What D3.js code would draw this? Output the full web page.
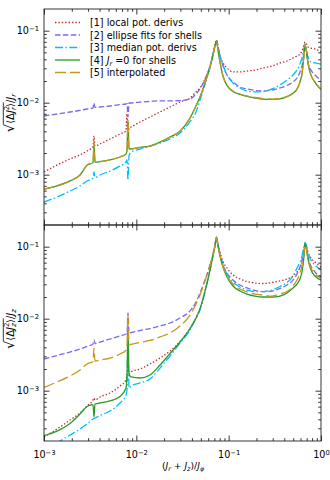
<!DOCTYPE html>
<html>
<head>
<meta charset="utf-8">
<script src="https://cdn.jsdelivr.net/npm/d3@7"></script>
<style>
body { margin: 0; background: #fff; }
text { font-family: "DejaVu Sans", sans-serif; }
</style>
</head>
<body>
<div id="chart"></div>
<script>
// x = (J_r + J_z)/J_phi, shared by every curve
var xVals = [0.001, 0.001384, 0.001914, 0.002455, 0.002923, 0.003396, 0.003478, 0.003567, 0.004042, 0.005186,
  0.006652, 0.007727, 0.007922, 0.008122, 0.008327, 0.008755, 0.01096, 0.01406, 0.01804, 0.02315,
  0.02972, 0.03813, 0.04428, 0.04893, 0.05542, 0.0628, 0.06767, 0.07112, 0.07382, 0.07662,
  0.08054, 0.08684, 0.09594, 0.1114, 0.1327, 0.158, 0.1929, 0.2354, 0.2946, 0.3597,
  0.4282, 0.4974, 0.5496, 0.5924, 0.6225, 0.6546, 0.6711, 0.6966, 0.7231, 0.7791, 0.861, 1.0];

// top panel: sqrt(<dJr^2>)/Jr
var jrLocal = [0.00109, 0.00136, 0.00165, 0.00188, 0.00213, 0.00246, 0.00344, 0.0025, 0.00267, 0.00313,
  0.00367, 0.00404, 0.00696, 0.00323, 0.00445, 0.00459, 0.00539, 0.00632, 0.00742, 0.00871,
  0.0102, 0.0116, 0.0141, 0.016, 0.0213, 0.0313, 0.0459, 0.0632, 0.0742, 0.0612,
  0.0445, 0.0356, 0.0303, 0.0267, 0.0267, 0.0275, 0.0284, 0.0303, 0.0323, 0.0356,
  0.0379, 0.0417, 0.0445, 0.0474, 0.0522, 0.0632, 0.0696, 0.0653, 0.0593, 0.0574, 0.0556, 0.0506];
var jrEllipse = [0.00653, 0.00696, 0.00742, 0.00779, 0.00817, 0.00843, 0.0099, 0.00857, 0.00871, 0.00899,
  0.00943, 0.00958, 0.00974, 0.00632, 0.0099, 0.0099, 0.0102, 0.0104, 0.0106, 0.0106,
  0.0107, 0.0112, 0.0132, 0.0155, 0.0213, 0.0323, 0.0474, 0.0632, 0.0719, 0.0613,
  0.0445, 0.0323, 0.0242, 0.0194, 0.0165, 0.0155, 0.0148, 0.0145, 0.015, 0.016,
  0.0173, 0.0194, 0.022, 0.0267, 0.0323, 0.0506, 0.0632, 0.0506, 0.0367, 0.0284, 0.0242, 0.0206];
var jrMedian = [0.000417, 0.00049, 0.000593, 0.000696, 0.000817, 0.000899, 0.00109, 0.000914, 0.00099, 0.00112,
  0.00132, 0.0015, 0.0016, 0.000843, 0.00182, 0.00206, 0.00227, 0.0025, 0.00275, 0.00313,
  0.00379, 0.00545, 0.00742, 0.0109, 0.0182, 0.0323, 0.0474, 0.0613, 0.0696, 0.0575,
  0.0445, 0.0334, 0.0242, 0.0188, 0.016, 0.0145, 0.0141, 0.0143, 0.0155, 0.0176,
  0.0206, 0.0242, 0.0284, 0.0344, 0.0417, 0.0575, 0.0653, 0.0539, 0.0431, 0.0367, 0.0356, 0.0344];
var jrShells = [0.00063, 0.0007, 0.00082, 0.00099, 0.00135, 0.00147, 0.0026, 0.00149, 0.00152, 0.0016,
  0.00176, 0.00193, 0.0022, 0.0058, 0.00226, 0.00228, 0.0024, 0.0025, 0.00283, 0.00333,
  0.00402, 0.0061, 0.009, 0.012, 0.0188, 0.0313, 0.0459, 0.0613, 0.0722, 0.054,
  0.0365, 0.0233, 0.0174, 0.0143, 0.013, 0.0122, 0.0116, 0.0112, 0.0111, 0.0113,
  0.0121, 0.0135, 0.0154, 0.0193, 0.0252, 0.046, 0.0625, 0.0505, 0.0354, 0.024, 0.0192, 0.0152];
var jrInterp = [0.000632, 0.000696, 0.000817, 0.00099, 0.00136, 0.00148, 0.00294, 0.0015, 0.00152, 0.0016,
  0.00176, 0.00194, 0.0022, 0.00539, 0.00227, 0.00227, 0.00238, 0.0025, 0.00284, 0.00334,
  0.00404, 0.00613, 0.00899, 0.012, 0.0188, 0.0313, 0.0459, 0.0613, 0.0719, 0.0539,
  0.0367, 0.0235, 0.0176, 0.0145, 0.0132, 0.0124, 0.0118, 0.0114, 0.0112, 0.0114,
  0.0122, 0.0136, 0.0155, 0.0194, 0.025, 0.0459, 0.0632, 0.0506, 0.0356, 0.0242, 0.0194, 0.0155];

// bottom panel: sqrt(<dJz^2>)/Jz
var jzLocal = [0.000227, 0.000294, 0.000391, 0.00049, 0.000613, 0.000742, 0.000791, 0.000742, 0.000817, 0.000928,
  0.00116, 0.00141, 0.00165, 0.0022, 0.0017, 0.00182, 0.002, 0.00235, 0.00284, 0.00356,
  0.00482, 0.0073, 0.0102, 0.0138, 0.0242, 0.0474, 0.0742, 0.102, 0.132, 0.109,
  0.0843, 0.0622, 0.0506, 0.0404, 0.0356, 0.0328, 0.0313, 0.0308, 0.0318, 0.0334,
  0.0356, 0.0391, 0.0445, 0.0506, 0.0593, 0.0843, 0.109, 0.102, 0.0843, 0.0696, 0.0613, 0.0522];
var jzEllipse = [0.00275, 0.00308, 0.00344, 0.00379, 0.00411, 0.00445, 0.00506, 0.00452, 0.00474, 0.00522,
  0.00575, 0.00613, 0.00622, 0.012, 0.00632, 0.00642, 0.00685, 0.0073, 0.00791, 0.00871,
  0.0102, 0.0128, 0.017, 0.0227, 0.0344, 0.0557, 0.0766, 0.102, 0.136, 0.1055,
  0.0766, 0.0557, 0.0431, 0.0344, 0.0294, 0.0267, 0.0246, 0.0238, 0.0242, 0.0263,
  0.0294, 0.0344, 0.0417, 0.0522, 0.0653, 0.0928, 0.1107, 0.0958, 0.0719, 0.0539, 0.0445, 0.0379];
var jzMedian = [0.000141, 0.000188, 0.000242, 0.000294, 0.000344, 0.000404, 0.000411, 0.000417, 0.000452, 0.000522,
  0.000674, 0.000871, 0.00102, 0.00696, 0.00109, 0.00116, 0.00128, 0.00145, 0.00206, 0.00303,
  0.00459, 0.00696, 0.0102, 0.0132, 0.0235, 0.049, 0.0766, 0.1055, 0.136, 0.1055,
  0.0791, 0.0557, 0.0417, 0.0323, 0.0275, 0.025, 0.0238, 0.0238, 0.025, 0.028,
  0.0318, 0.0391, 0.0506, 0.0613, 0.0742, 0.102, 0.116, 0.102, 0.0817, 0.0653, 0.0557, 0.0474];
var jzShells = [0.000238, 0.000275, 0.00035, 0.000474, 0.000603, 0.000642, 0.000431, 0.000653, 0.000674, 0.000719,
  0.00083, 0.00109, 0.00165, 0.00696, 0.0017, 0.00155, 0.0015, 0.00165, 0.00227, 0.00328,
  0.00474, 0.0073, 0.0102, 0.0138, 0.0242, 0.0474, 0.0766, 0.102, 0.132, 0.102,
  0.0742, 0.0522, 0.0379, 0.0284, 0.0242, 0.022, 0.0206, 0.02, 0.02, 0.0206,
  0.0227, 0.0267, 0.0303, 0.0356, 0.0445, 0.0742, 0.109, 0.0928, 0.0674, 0.0474, 0.0391, 0.0344];
var jzInterp = [0.00111, 0.00132, 0.0016, 0.00194, 0.00235, 0.00254, 0.00391, 0.00258, 0.00267, 0.00284,
  0.00323, 0.00367, 0.00431, 0.0112, 0.00431, 0.00438, 0.00467, 0.00498, 0.00557, 0.00632,
  0.00791, 0.0112, 0.016, 0.0213, 0.0334, 0.0557, 0.0791, 0.1055, 0.136, 0.102,
  0.0766, 0.0522, 0.0391, 0.0303, 0.0258, 0.0235, 0.022, 0.0213, 0.0206, 0.022,
  0.0238, 0.0284, 0.0344, 0.0431, 0.0539, 0.0817, 0.1055, 0.0899, 0.0674, 0.0506, 0.0417, 0.0367];

var legendLabels = ['[1] local pot. derivs', '[2] ellipse fits for shells', '[3] median pot. derivs',
  '[4] J_r =0 for shells', '[5] interpolated'];

var xMajor = [1e-3, 1e-2, 1e-1, 1];
var yMajor = [1e-3, 1e-2, 1e-1];

// styles, same order as the series
var colors = ['#c0282c', '#7b68ee', '#00bfff', '#2a9a2a', '#c8961c'];
var dashes = ['1.4,2', '5.5,2.4', '8,2.4,1.5,2.4', null, '11,4'];

var svg = d3.select('#chart').append('svg')
  .attr('width', 330)
  .attr('height', 480);

var left = 44, right = 321, panelH = 216;

var x = d3.scaleLog().domain([1e-3, 1]).range([left, right]);

function minorsOf(lo, hi) {
  var out = [];
  for (var e = -4; e <= 0; e++) {
    for (var k = 2; k <= 9; k++) {
      var v = k * Math.pow(10, e);
      if (v > lo * 1.0001 && v < hi * 0.9999) out.push(v);
    }
  }
  return out;
}

function supLabels(sel) {
  sel.selectAll('.tick text').each(function(d) {
    var t = d3.select(this);
    var e = Math.round(Math.log10(d));
    t.text(null);
    t.append('tspan').text('10');
    t.append('tspan').attr('dy', '-0.45em').attr('font-size', '6.8px')
      .text(e === 0 ? '0' : '\u2212' + (-e));
  });
}

function drawPanel(top, data, sub, showX) {
  var y = d3.scaleLog().domain([2e-4, 0.2]).range([top + panelH, top]);
  var g = svg.append('g');
  var clipId = 'clip' + top;
  svg.append('clipPath').attr('id', clipId)
    .append('rect').attr('x', left).attr('y', top).attr('width', right - left).attr('height', panelH);

  var line = d3.line()
    .x(function(d) { return x(d[0]); })
    .y(function(d) { return y(d[1]); })
    .curve(d3.curveMonotoneX);

  var lines = g.append('g').attr('clip-path', 'url(#' + clipId + ')');
  data.forEach(function(vals, i) {
    lines.append('path')
      .datum(xVals.map(function(xv, j) { return [xv, vals[j]]; }))
      .attr('d', line)
      .attr('fill', 'none')
      .attr('stroke', colors[i])
      .attr('stroke-width', 1.3)
      .attr('stroke-dasharray', dashes[i]);
  });

  // ticks point inwards on all four sides
  var axes = [
    [d3.axisBottom(x), 'translate(0,' + (top + panelH) + ')', xMajor, minorsOf(1e-3, 1), showX],
    [d3.axisTop(x), 'translate(0,' + top + ')', xMajor, minorsOf(1e-3, 1), false],
    [d3.axisLeft(y), 'translate(' + left + ',0)', yMajor, minorsOf(2e-4, 0.2), true],
    [d3.axisRight(y), 'translate(' + right + ',0)', yMajor, minorsOf(2e-4, 0.2), false]
  ];
  axes.forEach(function(a, k) {
    var minor = g.append('g').attr('transform', a[1])
      .call(a[0].tickValues(a[3]).tickSize(-2.8).tickFormat(''));
    minor.select('.domain').remove();
    var major = g.append('g').attr('transform', a[1])
      .call(a[0].tickValues(a[2]).tickSize(-5.5).tickPadding(a[4] ? 5 : 0).tickFormat(a[4] ? String : ''));
    major.select('.domain').remove();
    major.selectAll('.tick text').attr('font-size', '9.6px').attr('fill', '#000');
    if (a[4]) supLabels(major);
    if (k === 0) major.selectAll('.tick text').attr('dy', '1.25em');
  });
  g.selectAll('.tick line').attr('stroke', '#222').attr('stroke-width', 0.9);

  g.append('rect')
    .attr('x', left).attr('y', top).attr('width', right - left).attr('height', panelH)
    .attr('fill', 'none').attr('stroke', '#222').attr('stroke-width', 0.9);

  // y label: sqrt(<dJ^2>)/J, rotated
  var lab = g.append('g').attr('transform', 'translate(13.5,' + (top + panelH / 2 - 4) + ') rotate(-90)');
  var t = lab.append('text').attr('text-anchor', 'middle').attr('font-size', '10px');
  t.append('tspan').attr('font-size', '13px').text('\u221A');
  var rad = t.append('tspan');
  rad.append('tspan').text('\u27E8\u0394');
  rad.append('tspan').attr('font-style', 'italic').text('J');
  rad.append('tspan').attr('font-size', '7px').attr('dy', -4.5).text('2');
  rad.append('tspan').attr('font-size', '7px').attr('font-style', 'italic').attr('dx', -4.2).attr('dy', 7).text(sub);
  rad.append('tspan').attr('dy', -2.5).text('\u27E9');
  t.append('tspan').text('/');
  t.append('tspan').attr('font-style', 'italic').text('J');
  t.append('tspan').attr('font-size', '7px').attr('font-style', 'italic').attr('dy', 2.5).text(sub);
  var tb = t.node().getBBox();
  var bb = rad.node().getBBox();
  lab.append('line')
    .attr('x1', bb.x - 0.5).attr('x2', bb.x + bb.width + 0.5)
    .attr('y1', tb.y + 1.8).attr('y2', tb.y + 1.8)
    .attr('stroke', '#000').attr('stroke-width', 0.8);
  return y;
}

drawPanel(9, [jrLocal, jrEllipse, jrMedian, jrShells, jrInterp], 'r', false);
drawPanel(225, [jzLocal, jzEllipse, jzMedian, jzShells, jzInterp], 'z', true);

// x label
var xl = svg.append('text').attr('x', 183).attr('y', 469).attr('text-anchor', 'middle').attr('font-size', '9.2px');
xl.append('tspan').text('(');
xl.append('tspan').attr('font-style', 'italic').text('J');
xl.append('tspan').attr('font-size', '6.4px').attr('font-style', 'italic').attr('dy', 2).text('r');
xl.append('tspan').attr('dy', -2).text(' + ');
xl.append('tspan').attr('font-style', 'italic').text('J');
xl.append('tspan').attr('font-size', '6.4px').attr('font-style', 'italic').attr('dy', 2).text('z');
xl.append('tspan').attr('dy', -2).text(')/');
xl.append('tspan').attr('font-style', 'italic').text('J');
xl.append('tspan').attr('font-size', '6.4px').attr('font-style', 'italic').attr('dy', 2).text('\u03C6');

// legend, no frame
var legend = svg.append('g');
legendLabels.forEach(function(lbl, i) {
  var cy = 22.5 + i * 12.5;
  legend.append('line')
    .attr('x1', 55).attr('x2', 80).attr('y1', cy).attr('y2', cy)
    .attr('stroke', colors[i]).attr('stroke-width', 1.3)
    .attr('stroke-dasharray', dashes[i]);
  var tx = legend.append('text').attr('x', 90).attr('y', cy + 3.5).attr('font-size', '9.6px');
  if (lbl.indexOf('J_r') >= 0) {
    tx.append('tspan').text('[4] ');
    tx.append('tspan').attr('font-style', 'italic').text('J');
    tx.append('tspan').attr('font-size', '6.5px').attr('font-style', 'italic').attr('dy', 2).text('r');
    tx.append('tspan').attr('dy', -2).text(' =0 for shells');
  } else {
    tx.text(lbl);
  }
});
</script>
</body>
</html>
